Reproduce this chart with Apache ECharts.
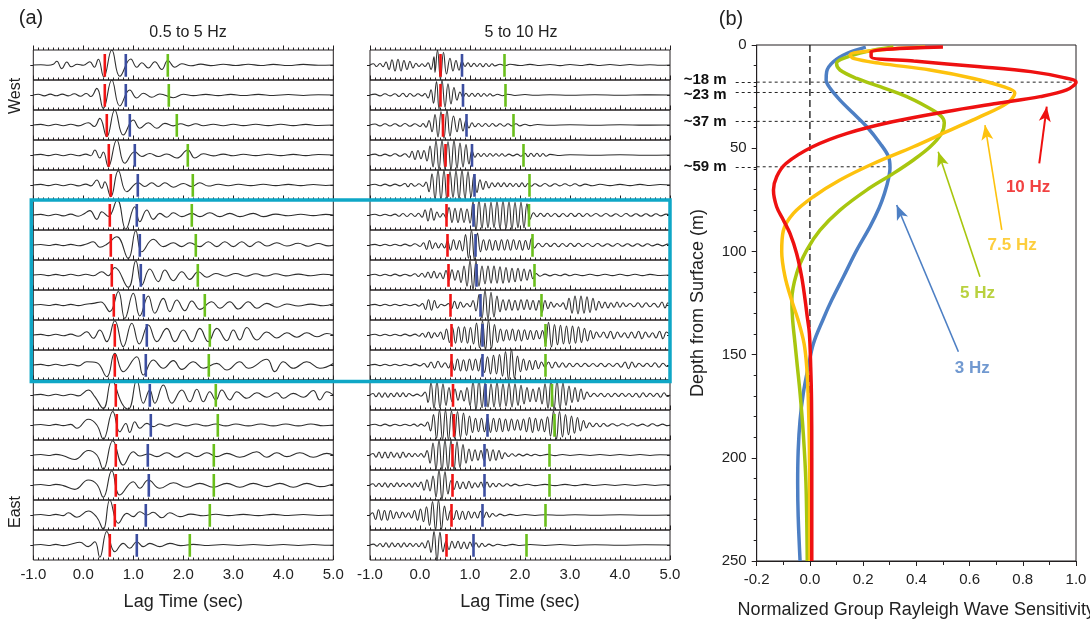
<!DOCTYPE html>
<html><head><meta charset="utf-8">
<script src="https://cdn.jsdelivr.net/npm/echarts@6/dist/echarts.min.js"></script>
<style>html,body{margin:0;padding:0;background:#fff}#c{width:1090px;height:621px}</style>
</head><body><div id="c"></div>
<script>
// ---------- Panel (a): pick times (sec) for each of the 17 traces, West -> East ----------
const lowRed   = [0.43,0.43,0.47,0.51,0.55,0.53,0.55,0.57,0.61,0.63,0.63,0.65,0.67,0.65,0.65,0.63,0.53];
const lowBlue  = [0.85,0.85,0.93,1.03,1.09,1.07,1.13,1.15,1.21,1.27,1.25,1.33,1.35,1.29,1.31,1.25,1.07];
const lowGreen = [1.69,1.71,1.87,2.09,2.19,2.17,2.25,2.29,2.43,2.53,2.51,2.65,2.69,2.61,2.61,2.53,2.13];
const highRed   = [0.41,0.41,0.46,0.51,0.56,0.53,0.55,0.57,0.61,0.63,0.63,0.66,0.68,0.65,0.65,0.63,0.53];
const highBlue  = [0.84,0.86,0.93,1.04,1.09,1.07,1.11,1.13,1.21,1.25,1.25,1.31,1.35,1.29,1.29,1.25,1.07];
const highGreen = [1.69,1.71,1.87,2.07,2.19,2.18,2.25,2.29,2.43,2.51,2.51,2.64,2.69,2.59,2.59,2.51,2.13];

// ---------- 0.5 to 5 Hz traces: [lag time, normalized amplitude] ----------
const low01=[[-1,0],[-0.85,0.02],[-0.7,-0.02],[-0.6,0.05],[-0.53,0.25],[-0.43,-0.25],[-0.33,0.2],[-0.24,-0.12],[-0.12,0.05],[0,-0.02],[0.13,0.22],[0.22,-0.15],[0.3,0.38],[0.41,-0.8],[0.57,1],[0.73,-0.75],[0.95,0.4],[1.07,-0.15],[1.17,0.15],[1.3,-0.2],[1.43,0.22],[1.57,-0.3],[1.69,0.3],[1.83,-0.15],[1.97,0.08],[2.15,-0.05],[2.35,0.06],[2.55,-0.04],[2.8,0.05],[3.05,-0.03],[3.3,0.05],[3.55,-0.03],[3.8,0.04],[4.1,-0.03],[4.4,0.04],[4.7,-0.02],[5,0]];
const low02=[[-1,0],[-0.9,0.05],[-0.78,-0.06],[-0.66,0.06],[-0.54,-0.05],[-0.42,0.06],[-0.3,-0.06],[-0.18,0.08],[-0.06,-0.08],[0.06,0.1],[0.15,-0.1],[0.27,0.44],[0.4,-0.9],[0.57,1],[0.73,-0.73],[0.93,0.33],[1.07,-0.2],[1.2,0.12],[1.37,-0.15],[1.53,0.07],[1.8,-0.18],[2,0.05],[2.2,-0.04],[2.45,0.04],[2.7,-0.04],[2.95,0.04],[3.2,-0.03],[3.5,0.04],[3.8,-0.03],[4.1,0.03],[4.4,-0.03],[4.7,0.02],[5,0]];
const low03=[[-1,0],[-0.85,0.04],[-0.7,-0.05],[-0.55,0.05],[-0.4,-0.05],[-0.25,0.05],[-0.1,-0.06],[0.1,0.15],[0.22,-0.1],[0.33,0.44],[0.47,-0.78],[0.63,1],[0.8,-0.67],[1,0.33],[1.13,-0.22],[1.3,0.15],[1.47,-0.22],[1.63,0.11],[1.8,-0.06],[1.95,0.08],[2.1,-0.06],[2.25,0.08],[2.4,-0.05],[2.6,0.05],[2.8,-0.05],[3,0.05],[3.2,-0.04],[3.45,0.05],[3.7,-0.04],[3.95,0.05],[4.2,-0.04],[4.45,0.04],[4.7,-0.03],[5,0]];
const low04=[[-1,0],[-0.85,0.04],[-0.7,-0.04],[-0.55,0.05],[-0.4,-0.05],[-0.25,0.05],[-0.1,-0.05],[0.05,0.06],[0.15,-0.05],[0.23,0.33],[0.33,-0.2],[0.4,0.2],[0.5,-0.78],[0.67,1],[0.83,-0.55],[1.03,0.22],[1.17,-0.1],[1.33,0.1],[1.5,-0.1],[1.67,0.07],[1.87,-0.2],[2.09,0.33],[2.23,-0.2],[2.4,0.08],[2.6,-0.06],[2.8,0.06],[3,-0.05],[3.2,0.05],[3.45,-0.04],[3.7,0.05],[3.95,-0.04],[4.2,0.04],[4.45,-0.04],[4.7,0.03],[5,0]];
const low05=[[-1,0],[-0.85,0.04],[-0.7,-0.04],[-0.55,0.05],[-0.4,-0.05],[-0.25,0.05],[-0.1,-0.06],[0.05,0.06],[0.15,-0.06],[0.27,0.33],[0.37,-0.22],[0.43,0.22],[0.55,-0.78],[0.7,0.95],[0.87,-0.45],[1.1,0.15],[1.23,-0.1],[1.37,0.15],[1.5,-0.1],[1.63,0.15],[1.8,-0.15],[2,0.1],[2.17,-0.1],[2.33,0.15],[2.5,-0.07],[2.7,0.05],[2.9,-0.05],[3.1,0.05],[3.35,-0.04],[3.6,0.05],[3.85,-0.04],[4.1,0.04],[4.35,-0.04],[4.6,0.03],[4.85,-0.03],[5,0]];
const low06=[[-1,0],[-0.85,0.04],[-0.7,-0.05],[-0.55,0.05],[-0.4,-0.06],[-0.25,0.06],[-0.1,-0.08],[0,0.05],[0.13,0.29],[0.27,-0.29],[0.37,0.22],[0.5,-0.1],[0.68,1],[0.85,-0.95],[1.03,0.55],[1.13,-0.45],[1.27,0.33],[1.4,-0.29],[1.53,0.11],[1.67,-0.15],[1.8,0.15],[1.97,-0.11],[2.17,0.11],[2.33,-0.11],[2.53,0.15],[2.73,-0.11],[2.93,0.11],[3.13,-0.11],[3.4,0.11],[3.6,-0.11],[3.85,0.06],[4.1,-0.05],[4.35,0.05],[4.6,-0.04],[4.85,0.04],[5,0]];
const low07=[[-1,0],[-0.85,0.03],[-0.7,-0.03],[-0.55,0.04],[-0.4,-0.04],[-0.25,0.04],[-0.1,-0.05],[0.05,0.05],[0.2,0.22],[0.33,-0.15],[0.47,0.05],[0.67,0.55],[0.9,-0.9],[1.05,0.95],[1.17,-0.45],[1.4,0.38],[1.6,-0.11],[1.8,0.15],[1.97,-0.11],[2.13,0.15],[2.33,-0.11],[2.5,0.22],[2.67,-0.11],[2.83,0.22],[3,-0.11],[3.17,0.22],[3.33,-0.11],[3.5,0.22],[3.67,-0.07],[3.87,0.15],[4.07,-0.07],[4.3,0.12],[4.5,-0.08],[4.7,0.1],[4.9,-0.06],[5,0]];
const low08=[[-1,0],[-0.85,0.03],[-0.7,-0.04],[-0.55,0.04],[-0.4,-0.04],[-0.25,0.05],[-0.1,-0.05],[0.05,0.05],[0.2,-0.05],[0.37,0.22],[0.5,-0.05],[0.63,0.5],[0.9,-0.82],[1.05,0.95],[1.17,-0.67],[1.33,0.4],[1.5,-0.44],[1.63,0.33],[1.8,-0.38],[1.97,0.22],[2.13,-0.29],[2.3,0.22],[2.47,-0.15],[2.65,0.1],[2.85,-0.08],[3.05,0.1],[3.25,-0.08],[3.45,0.08],[3.65,-0.07],[3.85,0.08],[4.05,-0.06],[4.3,0.06],[4.55,-0.05],[4.8,0.05],[5,0]];
const low09=[[-1,0],[-0.85,0.03],[-0.7,-0.03],[-0.55,0.04],[-0.4,-0.04],[-0.25,0.04],[-0.1,-0.04],[0.05,0.05],[0.2,0.11],[0.35,0.2],[0.53,-0.44],[0.7,0.9],[0.83,-0.9],[1,0.78],[1.13,-0.73],[1.3,0.6],[1.43,-0.55],[1.6,0.44],[1.73,-0.44],[1.87,0.33],[2.03,-0.38],[2.17,0.27],[2.33,-0.29],[2.57,0.22],[2.73,-0.22],[2.93,0.22],[3.1,-0.27],[3.3,0.22],[3.47,-0.22],[3.67,0.11],[3.87,-0.15],[4.07,0.07],[4.3,-0.07],[4.55,0.06],[4.8,-0.05],[5,0.08]];
const low10=[[-1,0],[-0.85,0.04],[-0.7,-0.04],[-0.55,0.05],[-0.4,-0.05],[-0.25,0.06],[-0.1,-0.08],[0.07,0.22],[0.2,-0.22],[0.33,0.33],[0.47,-0.44],[0.63,0.95],[0.8,-0.78],[0.97,0.78],[1.12,-0.6],[1.3,0.67],[1.47,-0.44],[1.67,0.44],[1.83,-0.44],[2,0.33],[2.17,-0.44],[2.33,0.44],[2.5,-0.44],[2.67,0.44],[2.87,-0.38],[3,0.33],[3.13,-0.33],[3.27,0.5],[3.47,-0.33],[3.67,0.2],[3.87,-0.2],[4.07,0.15],[4.27,-0.15],[4.47,0.15],[4.67,-0.12],[4.87,0.1],[5,0]];
const low11=[[-1,0],[-0.85,0.04],[-0.7,-0.04],[-0.55,0.05],[-0.4,-0.05],[-0.25,0.05],[-0.1,-0.06],[0.07,0.22],[0.27,0.15],[0.47,-0.78],[0.63,0.78],[0.8,-0.45],[1.07,0.55],[1.2,-0.67],[1.4,0.33],[1.6,-0.22],[1.8,0.29],[1.97,-0.29],[2.2,0.22],[2.4,-0.22],[2.67,0.11],[2.87,-0.33],[3.13,0.22],[3.3,-0.22],[3.67,0.38],[3.83,-0.44],[4,0.22],[4.2,-0.22],[4.47,0.22],[4.73,-0.22],[5,0.1]];
const low12=[[-1,0],[-0.85,0.04],[-0.7,-0.05],[-0.55,0.05],[-0.4,-0.05],[-0.25,0.05],[-0.1,-0.06],[0.1,0.33],[0.23,-0.11],[0.4,-0.9],[0.57,1],[0.77,-0.55],[0.9,-0.95],[1.07,1],[1.2,-0.55],[1.33,0.33],[1.43,-0.55],[1.6,0.67],[1.77,-0.55],[1.97,0.33],[2.13,-0.45],[2.27,0.38],[2.4,-0.45],[2.53,0.22],[2.65,-0.33],[2.77,0.33],[2.93,-0.33],[3.07,0.22],[3.27,-0.22],[3.47,0.15],[3.67,-0.15],[3.87,0.15],[4,-0.22],[4.2,0.11],[4.4,-0.15],[4.6,0.3],[4.73,-0.33],[4.87,0.22],[5,0]];
const low13=[[-1,0],[-0.85,0.03],[-0.7,-0.03],[-0.55,0.04],[-0.4,-0.04],[-0.25,0.04],[-0.13,-0.22],[0.1,0.38],[0.27,0],[0.4,-0.95],[0.59,0.9],[0.73,-0.45],[0.85,0.1],[0.93,-0.5],[1.03,0.22],[1.13,-0.22],[1.27,0.11],[1.4,-0.11],[1.53,0.07],[1.67,-0.07],[1.85,0.08],[2.05,-0.06],[2.25,0.07],[2.45,-0.06],[2.65,0.07],[2.85,-0.06],[3.05,0.07],[3.3,-0.06],[3.55,0.07],[3.8,-0.06],[4.05,0.07],[4.3,-0.06],[4.55,0.07],[4.8,-0.05],[5,0]];
const low14=[[-1,0],[-0.85,0.03],[-0.7,-0.03],[-0.55,0.04],[-0.4,-0.05],[-0.17,-0.3],[0.1,0.3],[0.27,0],[0.4,-0.95],[0.59,0.95],[0.8,-0.67],[1,0.22],[1.13,-0.07],[1.3,0.07],[1.47,-0.11],[1.67,0.15],[1.87,-0.15],[2.07,0.15],[2.27,-0.11],[2.47,0.15],[2.67,-0.11],[2.87,0.11],[3.13,-0.15],[3.47,0.22],[3.67,-0.15],[3.87,0.15],[4.07,-0.11],[4.33,0.15],[4.6,-0.15],[4.87,0.11],[5,0]];
const low15=[[-1,0],[-0.85,0.03],[-0.7,-0.03],[-0.55,0.04],[-0.4,-0.04],[-0.17,-0.29],[0.1,0.33],[0.27,0.05],[0.4,-0.82],[0.57,0.95],[0.73,-0.67],[1,0.22],[1.13,-0.22],[1.3,0.33],[1.53,-0.22],[1.8,0.15],[2.07,-0.15],[2.33,0.11],[2.6,-0.15],[2.87,0.11],[3.13,-0.15],[3.4,0.11],[3.67,-0.11],[3.93,0.11],[4.2,-0.15],[4.47,0.11],[4.73,-0.11],[5,0.07]];
const low16=[[-1,0],[-0.85,0.03],[-0.7,-0.03],[-0.55,0.04],[-0.4,-0.04],[-0.3,0.15],[-0.13,-0.15],[0.1,0.27],[0.27,-0.15],[0.4,-0.95],[0.53,1],[0.7,-0.55],[0.87,0.11],[1,-0.11],[1.13,0.22],[1.27,0],[1.4,0.18],[1.57,-0.18],[1.73,0.15],[1.93,-0.11],[2.15,0.06],[2.4,-0.05],[2.65,0.05],[2.9,-0.04],[3.2,0.04],[3.5,-0.04],[3.8,0.04],[4.1,-0.03],[4.4,0.03],[4.7,-0.03],[5,0]];
const low17=[[-1,0],[-0.85,0.03],[-0.7,-0.03],[-0.55,0.04],[-0.4,-0.04],[-0.25,0.05],[-0.07,0.18],[0.1,-0.11],[0.23,0.22],[0.33,-0.82],[0.47,0.9],[0.63,-0.45],[0.8,0.11],[0.93,-0.22],[1.07,0.22],[1.2,-0.11],[1.33,0.11],[1.53,-0.11],[1.73,0.11],[1.95,-0.04],[2.2,0.04],[2.5,-0.03],[2.8,0.03],[3.1,-0.03],[3.4,0.03],[3.7,-0.03],[4,0.03],[4.3,-0.03],[4.6,0.03],[4.9,-0.02],[5,0]];

// ---------- 5 to 10 Hz traces ----------
const high01=[[-1,0],[-0.93,0.08],[-0.87,-0.1],[-0.8,0.1],[-0.74,-0.12],[-0.68,0.2],[-0.62,-0.3],[-0.56,0.35],[-0.5,-0.4],[-0.44,0.38],[-0.38,-0.4],[-0.32,0.3],[-0.26,-0.3],[-0.2,0.25],[-0.14,-0.2],[-0.08,0.12],[-0.02,-0.1],[0.04,0.08],[0.1,-0.1],[0.16,0.15],[0.22,-0.3],[0.28,0.55],[0.3,-0.5],[0.35,1],[0.41,-0.95],[0.47,0.85],[0.53,-0.6],[0.6,0.45],[0.66,-0.4],[0.72,0.3],[0.78,-0.35],[0.84,0.25],[0.9,-0.1],[0.96,0.15],[1.02,-0.12],[1.08,0.12],[1.14,-0.1],[1.2,0.1],[1.26,-0.12],[1.32,0.1],[1.38,-0.1],[1.44,0.08],[1.5,-0.06],[1.6,0.05],[1.7,-0.04],[1.8,0.05],[2,-0.03],[2.2,0.04],[2.4,-0.03],[2.6,0.03],[2.8,-0.04],[3,0.03],[3.2,-0.03],[3.4,0.04],[3.6,-0.03],[3.8,0.03],[4,-0.03],[4.2,0.03],[4.4,-0.02],[4.6,0.02],[4.8,-0.02],[5,0]];
const high02=[[-1,0],[-0.9,0.06],[-0.8,-0.06],[-0.7,0.08],[-0.6,-0.06],[-0.5,0.08],[-0.42,-0.1],[-0.34,0.12],[-0.27,-0.12],[-0.2,0.1],[-0.12,-0.08],[-0.04,0.08],[0.04,-0.06],[0.1,0.1],[0.16,-0.2],[0.22,0.35],[0.27,-0.55],[0.33,0.9],[0.38,-0.95],[0.44,1],[0.5,-0.8],[0.56,0.75],[0.62,-0.6],[0.68,0.5],[0.74,-0.35],[0.8,0.2],[0.86,-0.15],[0.92,0.12],[0.98,-0.1],[1.04,0.12],[1.1,-0.1],[1.16,0.12],[1.22,-0.1],[1.28,0.1],[1.34,-0.08],[1.4,0.08],[1.46,-0.06],[1.55,0.05],[1.65,-0.05],[1.75,0.05],[1.9,-0.03],[2.1,0.03],[2.3,-0.02],[2.6,0.02],[3,-0.02],[3.5,0.02],[4,-0.02],[4.5,0.01],[5,0]];
const high03=[[-1,0],[-0.9,0.07],[-0.8,-0.06],[-0.7,0.08],[-0.6,-0.07],[-0.5,0.08],[-0.4,-0.08],[-0.3,0.1],[-0.2,-0.08],[-0.1,0.08],[0,-0.1],[0.06,0.1],[0.12,-0.15],[0.18,0.3],[0.24,-0.45],[0.3,0.7],[0.36,-0.8],[0.42,0.9],[0.48,-0.9],[0.54,1],[0.6,-0.75],[0.67,0.6],[0.74,-0.45],[0.8,0.45],[0.86,-0.4],[0.92,0.3],[0.98,-0.2],[1.04,0.15],[1.1,-0.12],[1.17,0.1],[1.24,-0.1],[1.31,0.1],[1.38,-0.1],[1.45,0.1],[1.52,-0.08],[1.6,0.08],[1.68,-0.08],[1.76,0.08],[1.84,-0.06],[1.92,0.08],[2,-0.06],[2.1,0.05],[2.2,-0.04],[2.35,0.03],[2.6,-0.02],[3,0.02],[3.5,-0.02],[4,0.02],[4.5,-0.01],[5,0]];
const high04=[[-1,0],[-0.9,0.06],[-0.8,-0.05],[-0.7,0.06],[-0.6,-0.06],[-0.5,0.08],[-0.4,-0.08],[-0.3,0.08],[-0.22,-0.15],[-0.16,0.25],[-0.1,-0.3],[-0.04,0.3],[0.02,-0.25],[0.08,0.3],[0.14,-0.4],[0.2,0.6],[0.26,-0.8],[0.32,0.95],[0.38,-1],[0.44,1],[0.5,-0.95],[0.56,0.9],[0.62,-1],[0.68,1],[0.74,-0.9],[0.8,0.8],[0.86,-0.8],[0.92,0.7],[0.98,-0.6],[1.04,0.3],[1.1,-0.15],[1.16,0.12],[1.22,-0.1],[1.28,0.1],[1.34,-0.1],[1.4,0.1],[1.46,-0.08],[1.52,0.08],[1.58,-0.08],[1.64,0.08],[1.7,-0.08],[1.78,0.06],[1.86,-0.06],[1.94,0.06],[2.02,-0.08],[2.1,0.12],[2.16,-0.12],[2.22,0.12],[2.28,-0.1],[2.34,0.12],[2.4,-0.1],[2.46,0.1],[2.52,-0.08],[2.6,0.04],[2.8,-0.03],[3,0.02],[3.5,-0.02],[4,0.02],[4.5,-0.02],[5,0]];
const high05=[[-1,0],[-0.9,0.05],[-0.8,-0.05],[-0.7,0.06],[-0.6,-0.06],[-0.5,0.06],[-0.4,-0.06],[-0.3,0.1],[-0.24,-0.12],[-0.18,0.1],[-0.1,-0.08],[-0.02,0.08],[0.06,-0.1],[0.12,0.2],[0.18,-0.45],[0.24,0.75],[0.3,-0.95],[0.36,1],[0.42,-1],[0.48,1],[0.54,-1],[0.6,0.9],[0.66,-0.85],[0.72,0.95],[0.78,-0.95],[0.84,1],[0.9,-0.9],[0.96,0.9],[1.02,-0.8],[1.08,0.7],[1.14,-0.5],[1.2,0.35],[1.26,-0.3],[1.32,0.25],[1.38,-0.2],[1.44,0.15],[1.5,-0.12],[1.56,0.15],[1.62,-0.12],[1.68,0.15],[1.74,-0.12],[1.8,0.12],[1.86,-0.1],[1.92,0.1],[1.98,-0.12],[2.04,0.15],[2.1,-0.12],[2.16,0.1],[2.22,-0.08],[2.3,0.08],[2.4,-0.08],[2.5,0.1],[2.6,-0.08],[2.7,0.08],[2.8,-0.06],[2.9,0.08],[3,-0.06],[3.1,0.08],[3.2,-0.06],[3.3,0.06],[3.45,-0.05],[3.6,0.05],[3.8,-0.04],[4,0.04],[4.2,-0.04],[4.4,0.04],[4.6,-0.03],[4.8,0.03],[5,0]];
const high06=[[-1,0],[-0.9,0.05],[-0.8,-0.05],[-0.7,0.05],[-0.6,-0.05],[-0.5,0.06],[-0.42,-0.08],[-0.34,0.1],[-0.26,-0.1],[-0.18,0.1],[-0.1,-0.1],[-0.03,0.12],[0.04,-0.15],[0.1,0.35],[0.16,-0.4],[0.22,0.45],[0.28,-0.35],[0.34,0.2],[0.4,-0.15],[0.46,0.1],[0.52,-0.2],[0.58,0.5],[0.64,-0.5],[0.7,0.45],[0.76,-0.5],[0.82,0.45],[0.88,-0.5],[0.94,0.4],[1,-0.55],[1.06,0.9],[1.12,-1.05],[1.18,1],[1.24,-0.9],[1.3,0.8],[1.36,-0.85],[1.42,0.85],[1.48,-0.85],[1.54,0.9],[1.6,-0.9],[1.66,0.95],[1.72,-0.9],[1.78,0.9],[1.84,-0.95],[1.9,0.85],[1.96,-0.85],[2.02,0.85],[2.08,-0.85],[2.14,0.75],[2.2,-0.3],[2.27,0.15],[2.34,-0.12],[2.41,0.12],[2.48,-0.1],[2.55,0.12],[2.62,-0.1],[2.7,0.1],[2.78,-0.12],[2.86,0.1],[2.94,-0.1],[3.02,0.12],[3.1,-0.1],[3.18,0.12],[3.26,-0.1],[3.34,0.1],[3.42,-0.08],[3.52,0.1],[3.62,-0.08],[3.72,0.1],[3.82,-0.08],[3.92,0.08],[4.02,-0.1],[4.12,0.1],[4.22,-0.08],[4.32,0.08],[4.42,-0.08],[4.52,0.08],[4.62,-0.08],[4.72,0.08],[4.82,-0.06],[4.92,0.06],[5,0]];
const high07=[[-1,0],[-0.9,0.04],[-0.8,-0.04],[-0.7,0.05],[-0.6,-0.05],[-0.5,0.05],[-0.4,-0.05],[-0.3,0.06],[-0.2,-0.06],[-0.1,0.08],[0,-0.1],[0.07,0.15],[0.13,-0.3],[0.19,0.3],[0.25,-0.25],[0.31,0.15],[0.37,-0.2],[0.43,0.1],[0.49,-0.2],[0.55,0.3],[0.61,-0.35],[0.67,0.35],[0.73,-0.3],[0.79,0.3],[0.85,-0.4],[0.91,0.7],[0.97,-0.9],[1.03,1],[1.09,-1],[1.15,0.8],[1.21,-0.45],[1.27,0.35],[1.33,-0.35],[1.39,0.35],[1.45,-0.35],[1.51,0.3],[1.57,-0.35],[1.63,0.35],[1.69,-0.35],[1.75,0.35],[1.81,-0.35],[1.87,0.35],[1.93,-0.3],[1.99,0.3],[2.05,-0.35],[2.11,0.3],[2.17,-0.3],[2.23,0.45],[2.29,-0.2],[2.37,0.12],[2.45,-0.12],[2.53,0.12],[2.61,-0.1],[2.69,0.12],[2.77,-0.12],[2.85,0.1],[2.93,-0.1],[3.01,0.12],[3.09,-0.1],[3.17,0.12],[3.25,-0.1],[3.35,0.1],[3.45,-0.1],[3.55,0.1],[3.65,-0.08],[3.75,0.08],[3.85,-0.08],[3.95,0.1],[4.05,-0.08],[4.15,0.08],[4.25,-0.08],[4.35,0.08],[4.45,-0.08],[4.55,0.08],[4.65,-0.06],[4.75,0.06],[4.85,-0.06],[4.95,0.06],[5,0]];
const high08=[[-1,0],[-0.9,0.05],[-0.8,-0.05],[-0.7,0.05],[-0.6,-0.05],[-0.5,0.06],[-0.4,-0.06],[-0.3,0.05],[-0.2,-0.06],[-0.1,0.08],[-0.03,-0.1],[0.04,0.12],[0.1,-0.15],[0.16,0.2],[0.22,-0.2],[0.28,0.25],[0.34,-0.2],[0.4,0.15],[0.46,-0.25],[0.52,0.3],[0.58,-0.35],[0.64,0.35],[0.7,-0.35],[0.76,0.3],[0.82,-0.5],[0.88,0.6],[0.94,-0.75],[1,0.95],[1.06,-1],[1.12,0.95],[1.18,-0.75],[1.24,0.6],[1.3,-0.6],[1.36,0.6],[1.42,-0.55],[1.48,0.6],[1.54,-0.55],[1.6,0.55],[1.66,-0.55],[1.72,0.5],[1.78,-0.5],[1.84,0.45],[1.9,-0.45],[1.96,0.45],[2.02,-0.4],[2.08,0.4],[2.14,-0.35],[2.2,0.35],[2.26,-0.25],[2.32,0.1],[2.4,-0.08],[2.5,0.06],[2.6,-0.06],[2.7,0.05],[2.8,-0.05],[2.9,0.06],[3,-0.05],[3.1,0.05],[3.25,-0.04],[3.4,0.05],[3.55,-0.04],[3.7,0.05],[3.85,-0.04],[4,0.05],[4.15,-0.04],[4.3,0.05],[4.45,-0.04],[4.6,0.04],[4.8,-0.03],[5,0]];
const high09=[[-1,0],[-0.9,0.04],[-0.8,-0.04],[-0.7,0.05],[-0.6,-0.05],[-0.5,0.05],[-0.4,-0.04],[-0.3,0.05],[-0.2,-0.05],[-0.1,0.05],[-0.02,-0.08],[0.05,0.1],[0.11,-0.3],[0.17,0.35],[0.23,-0.35],[0.29,0.3],[0.35,-0.2],[0.42,0.05],[0.5,-0.05],[0.57,0.1],[0.63,-0.25],[0.69,0.25],[0.75,-0.25],[0.81,0.2],[0.87,-0.15],[0.94,0.1],[1,-0.12],[1.06,0.3],[1.12,-0.4],[1.18,0.7],[1.24,-0.9],[1.3,1],[1.36,-0.95],[1.42,0.85],[1.48,-0.8],[1.54,0.6],[1.6,-0.45],[1.66,0.35],[1.72,-0.35],[1.78,0.35],[1.84,-0.35],[1.9,0.3],[1.96,-0.35],[2.02,0.35],[2.08,-0.3],[2.14,0.35],[2.2,-0.3],[2.26,0.3],[2.32,-0.35],[2.38,0.3],[2.44,-0.5],[2.5,0.3],[2.56,-0.25],[2.62,0.2],[2.68,-0.15],[2.74,0.1],[2.8,-0.1],[2.86,0.15],[2.92,-0.3],[2.98,0.45],[3.04,-0.55],[3.1,0.6],[3.16,-0.6],[3.22,0.6],[3.28,-0.55],[3.34,0.55],[3.4,-0.5],[3.46,0.45],[3.52,-0.35],[3.58,0.25],[3.64,-0.2],[3.7,0.2],[3.76,-0.2],[3.82,0.15],[3.88,-0.15],[3.94,0.2],[4,-0.15],[4.06,0.15],[4.12,-0.1],[4.2,0.1],[4.28,-0.12],[4.36,0.15],[4.44,-0.15],[4.52,0.15],[4.6,-0.12],[4.68,0.12],[4.76,-0.15],[4.84,0.2],[4.9,-0.2],[4.96,0.15],[5,0]];
const high10=[[-1,0],[-0.9,0.05],[-0.8,-0.05],[-0.7,0.05],[-0.6,-0.05],[-0.5,0.05],[-0.4,-0.05],[-0.3,0.06],[-0.2,-0.06],[-0.1,0.06],[-0.02,-0.08],[0.05,0.12],[0.11,-0.15],[0.17,0.2],[0.23,-0.2],[0.29,0.15],[0.35,-0.12],[0.41,0.2],[0.47,-0.3],[0.53,0.4],[0.59,-0.5],[0.65,0.5],[0.71,-0.55],[0.77,0.55],[0.83,-0.5],[0.89,0.55],[0.95,-0.55],[1.01,0.5],[1.07,-0.6],[1.13,0.8],[1.19,-0.85],[1.25,0.95],[1.31,-1],[1.37,1],[1.43,-0.9],[1.49,0.7],[1.55,-0.5],[1.61,0.4],[1.67,-0.4],[1.73,0.35],[1.79,-0.35],[1.85,0.4],[1.91,-0.4],[1.97,0.35],[2.03,-0.4],[2.09,0.35],[2.15,-0.3],[2.21,0.3],[2.27,-0.3],[2.33,0.3],[2.39,-0.25],[2.45,0.3],[2.51,-0.6],[2.57,0.85],[2.63,-0.8],[2.69,0.7],[2.75,-0.65],[2.81,0.65],[2.87,-0.6],[2.93,0.6],[2.99,-0.6],[3.05,0.6],[3.11,-0.55],[3.17,0.55],[3.23,-0.5],[3.29,0.45],[3.35,-0.4],[3.41,0.3],[3.47,-0.25],[3.53,0.2],[3.6,-0.15],[3.67,0.2],[3.74,-0.2],[3.81,0.25],[3.88,-0.25],[3.95,0.2],[4.02,-0.15],[4.09,0.15],[4.16,-0.2],[4.23,0.2],[4.3,-0.2],[4.37,0.25],[4.44,-0.25],[4.51,0.2],[4.58,-0.15],[4.65,0.15],[4.72,-0.2],[4.79,0.25],[4.86,-0.25],[4.93,0.2],[5,0]];
const high11=[[-1,0],[-0.9,0.04],[-0.8,-0.04],[-0.7,0.05],[-0.6,-0.05],[-0.5,0.05],[-0.4,-0.05],[-0.3,0.05],[-0.2,-0.05],[-0.1,0.06],[0,-0.06],[0.08,0.1],[0.15,-0.15],[0.22,0.2],[0.29,-0.2],[0.36,0.25],[0.43,-0.15],[0.5,0.15],[0.57,-0.2],[0.63,0.3],[0.69,-0.35],[0.75,0.4],[0.81,-0.4],[0.87,0.35],[0.93,-0.4],[0.99,0.4],[1.05,-0.35],[1.11,0.4],[1.17,-0.4],[1.23,0.5],[1.29,-0.5],[1.35,0.55],[1.41,-0.6],[1.47,0.65],[1.53,-0.6],[1.59,0.7],[1.65,-0.75],[1.71,0.9],[1.77,-1],[1.83,1.05],[1.89,-0.9],[1.95,0.6],[2.01,-0.45],[2.07,0.4],[2.13,-0.35],[2.19,0.3],[2.25,-0.3],[2.31,0.3],[2.37,-0.25],[2.43,0.2],[2.5,-0.15],[2.57,0.2],[2.64,-0.2],[2.71,0.2],[2.78,-0.15],[2.85,0.15],[2.92,-0.15],[2.99,0.12],[3.06,-0.12],[3.14,0.12],[3.22,-0.12],[3.3,0.12],[3.38,-0.1],[3.46,0.1],[3.54,-0.1],[3.62,0.12],[3.7,-0.12],[3.78,0.1],[3.86,-0.1],[3.94,0.12],[4.02,-0.15],[4.1,0.2],[4.17,-0.25],[4.24,0.2],[4.31,-0.15],[4.38,0.12],[4.46,-0.1],[4.54,0.12],[4.62,-0.12],[4.7,0.15],[4.78,-0.15],[4.86,0.12],[4.94,-0.1],[5,0]];
const high12=[[-1,0],[-0.94,0.1],[-0.88,-0.12],[-0.82,0.15],[-0.76,-0.15],[-0.7,0.15],[-0.64,-0.15],[-0.58,0.12],[-0.52,-0.12],[-0.46,0.15],[-0.4,-0.12],[-0.34,0.15],[-0.28,-0.12],[-0.22,0.1],[-0.14,-0.06],[-0.06,0.06],[0.02,-0.08],[0.1,0.2],[0.16,-0.5],[0.22,0.85],[0.28,-0.9],[0.34,0.9],[0.4,-0.85],[0.46,0.75],[0.52,-0.7],[0.58,0.5],[0.64,-0.45],[0.7,0.4],[0.76,-0.35],[0.82,0.3],[0.88,-0.4],[0.94,0.5],[1,-0.7],[1.06,0.9],[1.12,-1],[1.18,1],[1.24,-0.85],[1.3,0.8],[1.36,-0.8],[1.42,0.75],[1.48,-0.8],[1.54,0.85],[1.6,-0.8],[1.66,0.75],[1.72,-0.75],[1.78,0.8],[1.84,-0.8],[1.9,0.75],[1.96,-0.7],[2.02,0.65],[2.08,-0.6],[2.14,0.5],[2.2,-0.45],[2.26,0.4],[2.32,-0.45],[2.38,0.5],[2.44,-0.6],[2.5,0.75],[2.56,-0.9],[2.62,1],[2.68,-1],[2.74,0.95],[2.8,-0.9],[2.86,0.8],[2.92,-0.7],[2.98,0.6],[3.04,-0.5],[3.1,0.5],[3.16,-0.45],[3.22,0.4],[3.28,-0.3],[3.34,0.2],[3.41,-0.12],[3.48,0.12],[3.55,-0.1],[3.62,0.12],[3.69,-0.12],[3.76,0.1],[3.83,-0.12],[3.9,0.12],[3.97,-0.1],[4.04,0.12],[4.11,-0.1],[4.18,0.1],[4.25,-0.12],[4.32,0.12],[4.39,-0.15],[4.46,0.15],[4.53,-0.12],[4.6,0.12],[4.67,-0.1],[4.74,0.12],[4.81,-0.15],[4.88,0.15],[4.95,-0.1],[5,0]];
const high13=[[-1,0],[-0.9,0.05],[-0.8,-0.05],[-0.7,0.06],[-0.6,-0.06],[-0.5,0.05],[-0.4,-0.05],[-0.3,0.05],[-0.2,-0.05],[-0.12,0.06],[-0.05,-0.08],[0.02,0.06],[0.09,-0.08],[0.15,0.2],[0.21,-0.4],[0.27,0.7],[0.33,-0.9],[0.39,1],[0.45,-1],[0.51,1],[0.57,-1],[0.63,0.95],[0.69,-0.9],[0.75,0.9],[0.81,-0.85],[0.87,0.8],[0.93,-0.7],[0.99,0.6],[1.05,-0.5],[1.11,0.45],[1.17,-0.45],[1.23,0.45],[1.29,-0.45],[1.35,0.5],[1.41,-0.5],[1.47,0.45],[1.53,-0.45],[1.59,0.45],[1.65,-0.45],[1.71,0.4],[1.77,-0.4],[1.83,0.4],[1.89,-0.35],[1.95,0.35],[2.01,-0.35],[2.07,0.4],[2.13,-0.45],[2.19,0.5],[2.25,-0.5],[2.31,0.45],[2.37,-0.4],[2.43,0.4],[2.49,-0.45],[2.55,0.55],[2.61,-0.75],[2.67,0.95],[2.73,-0.95],[2.79,0.9],[2.85,-0.8],[2.91,0.7],[2.97,-0.65],[3.03,0.6],[3.09,-0.55],[3.15,0.5],[3.21,-0.4],[3.27,0.3],[3.33,-0.2],[3.39,0.15],[3.46,-0.12],[3.53,0.12],[3.6,-0.12],[3.67,0.1],[3.75,-0.08],[3.85,0.08],[3.95,-0.06],[4.05,0.08],[4.15,-0.06],[4.25,0.08],[4.35,-0.06],[4.45,0.06],[4.55,-0.08],[4.65,0.08],[4.75,-0.06],[4.85,0.06],[4.95,-0.05],[5,0]];
const high14=[[-1,0],[-0.94,0.1],[-0.88,-0.15],[-0.82,0.2],[-0.76,-0.2],[-0.7,0.2],[-0.64,-0.2],[-0.58,0.2],[-0.52,-0.15],[-0.46,0.15],[-0.4,-0.2],[-0.34,0.2],[-0.28,-0.15],[-0.22,0.12],[-0.16,-0.12],[-0.1,0.1],[-0.04,-0.1],[0.02,0.1],[0.08,-0.15],[0.14,0.3],[0.2,-0.55],[0.26,0.8],[0.32,-0.95],[0.38,1],[0.44,-1.05],[0.5,1],[0.56,-1],[0.62,1],[0.68,-1],[0.74,0.9],[0.8,-0.85],[0.86,0.7],[0.92,-0.55],[0.98,0.4],[1.04,-0.4],[1.1,0.35],[1.16,-0.35],[1.22,0.3],[1.28,-0.35],[1.34,0.4],[1.4,-0.4],[1.46,0.35],[1.52,-0.35],[1.58,0.3],[1.64,-0.25],[1.7,0.15],[1.77,-0.1],[1.84,0.08],[1.91,-0.08],[1.98,0.06],[2.06,-0.06],[2.14,0.06],[2.22,-0.05],[2.3,0.05],[2.4,-0.04],[2.55,0.04],[2.7,-0.04],[2.85,0.03],[3,-0.03],[3.2,0.03],[3.4,-0.03],[3.6,0.03],[3.8,-0.03],[4,0.03],[4.2,-0.03],[4.4,0.03],[4.6,-0.03],[4.8,0.02],[5,0]];
const high15=[[-1,0],[-0.94,0.08],[-0.88,-0.1],[-0.82,0.12],[-0.76,-0.12],[-0.7,0.15],[-0.64,-0.15],[-0.58,0.12],[-0.52,-0.12],[-0.46,0.15],[-0.4,-0.12],[-0.34,0.12],[-0.28,-0.1],[-0.22,0.12],[-0.16,-0.15],[-0.1,0.15],[-0.04,-0.12],[0.02,0.2],[0.08,-0.35],[0.14,0.35],[0.2,-0.4],[0.26,0.6],[0.32,-0.8],[0.38,1],[0.44,-1],[0.5,0.9],[0.56,-0.6],[0.62,0.3],[0.68,-0.3],[0.74,0.25],[0.8,-0.25],[0.86,0.2],[0.92,-0.25],[0.98,0.25],[1.04,-0.2],[1.1,0.15],[1.16,-0.15],[1.22,0.2],[1.28,-0.2],[1.34,0.2],[1.4,-0.15],[1.46,0.12],[1.52,-0.12],[1.58,0.1],[1.66,-0.08],[1.74,0.08],[1.82,-0.06],[1.9,0.06],[2,-0.05],[2.15,0.05],[2.3,-0.04],[2.5,0.04],[2.7,-0.04],[2.9,0.04],[3.1,-0.04],[3.3,0.04],[3.5,-0.03],[3.7,0.03],[3.9,-0.03],[4.1,0.03],[4.3,-0.03],[4.5,0.03],[4.7,-0.03],[4.9,0.02],[5,0]];
const high16=[[-1,0],[-0.95,0.15],[-0.89,-0.3],[-0.83,0.35],[-0.77,-0.35],[-0.71,0.3],[-0.65,-0.35],[-0.59,0.3],[-0.53,-0.25],[-0.47,0.2],[-0.41,-0.2],[-0.35,0.2],[-0.29,-0.15],[-0.23,0.15],[-0.17,-0.2],[-0.11,0.3],[-0.05,-0.35],[0.01,0.4],[0.07,-0.45],[0.13,0.55],[0.19,-0.7],[0.25,0.9],[0.31,-1],[0.37,1],[0.43,-0.95],[0.49,0.6],[0.55,-0.35],[0.61,0.3],[0.67,-0.3],[0.73,0.3],[0.79,-0.3],[0.85,0.25],[0.91,-0.3],[0.97,0.25],[1.03,-0.2],[1.09,0.2],[1.15,-0.2],[1.21,0.25],[1.27,-0.2],[1.33,0.2],[1.39,-0.15],[1.45,0.1],[1.52,-0.08],[1.6,0.06],[1.7,-0.05],[1.8,0.04],[1.95,-0.03],[2.1,0.03],[2.3,-0.03],[2.5,0.02],[2.8,-0.02],[3.1,0.02],[3.5,-0.02],[4,0.02],[4.5,-0.02],[5,0]];
const high17=[[-1,0],[-0.93,0.06],[-0.86,-0.08],[-0.8,0.1],[-0.74,-0.12],[-0.68,0.15],[-0.62,-0.15],[-0.56,0.15],[-0.5,-0.12],[-0.44,0.12],[-0.38,-0.15],[-0.32,0.15],[-0.26,-0.12],[-0.2,0.12],[-0.14,-0.1],[-0.08,0.1],[-0.02,-0.12],[0.04,0.15],[0.1,-0.2],[0.16,0.3],[0.22,-0.5],[0.28,0.9],[0.34,-1.05],[0.4,0.85],[0.46,-0.45],[0.52,0.25],[0.58,-0.3],[0.64,0.25],[0.7,-0.2],[0.76,0.25],[0.82,-0.25],[0.88,0.2],[0.94,-0.25],[1,0.2],[1.06,-0.15],[1.12,0.15],[1.18,-0.15],[1.24,0.12],[1.3,-0.1],[1.38,0.06],[1.46,-0.06],[1.55,0.05],[1.7,-0.04],[1.85,0.04],[2,-0.03],[2.2,0.03],[2.5,-0.03],[2.8,0.03],[3.1,-0.03],[3.5,0.02],[4,-0.02],[4.5,0.02],[5,0]];

const lowTraces  = [low01,low02,low03,low04,low05,low06,low07,low08,low09,low10,low11,low12,low13,low14,low15,low16,low17];
const highTraces = [high01,high02,high03,high04,high05,high06,high07,high08,high09,high10,high11,high12,high13,high14,high15,high16,high17];

// ---------- Panel (b): sensitivity [value, depth (m)] ----------
const sens3Hz  = [[0.21,1],[0.14,4],[0.088,8.1],[0.063,12.9],[0.061,17],[0.076,21],[0.113,26.7],[0.163,33.1],[0.214,39.6],[0.264,47.7],[0.295,54],[0.301,59.5],[0.295,65],[0.28,72],[0.26,79],[0.226,88],[0.176,99.4],[0.126,112.3],[0.082,123.6],[0.051,132.5],[0.013,144.7],[-0.006,155.9],[-0.025,168.8],[-0.037,181.7],[-0.044,196.3],[-0.046,212.4],[-0.044,228.6],[-0.037,250]];
const sens5Hz  = [[0.314,1],[0.213,3.2],[0.126,6.5],[0.1,8.9],[0.113,12.1],[0.176,16.2],[0.264,20.2],[0.364,25],[0.439,29.9],[0.489,34],[0.505,37.5],[0.495,42.8],[0.452,49.3],[0.389,55.7],[0.314,62.2],[0.213,70.3],[0.113,80],[0.038,89.7],[-0.012,99.4],[-0.05,110.7],[-0.068,123.6],[-0.065,133],[-0.056,144.6],[-0.047,156],[-0.037,168.8],[-0.025,188],[-0.015,212],[-0.01,250]];
const sens75Hz = [[0.433,1],[0.264,2.4],[0.151,4.8],[0.163,6.5],[0.264,8.9],[0.452,12.1],[0.615,16.2],[0.727,20.2],[0.77,23.2],[0.74,28.3],[0.64,34.7],[0.514,42],[0.389,49.3],[0.239,57.4],[0.113,65.4],[0.013,73.5],[-0.062,81.6],[-0.1,90],[-0.106,100],[-0.094,112],[-0.069,123.6],[-0.045,133],[-0.022,144.6],[-0.012,156],[-0.006,172],[-0.002,196],[0,250]];
const sens10Hz = [[0.5,1],[0.23,3.2],[0.23,5.7],[0.39,7.8],[0.64,10.5],[0.83,12.9],[0.95,15.7],[1.0,18],[0.965,21.8],[0.865,25],[0.7,28.3],[0.51,32.3],[0.31,37.2],[0.14,42.8],[0.01,49.3],[-0.09,57.4],[-0.125,63.8],[-0.137,70.3],[-0.125,78.4],[-0.1,84.8],[-0.075,91.3],[-0.05,101],[-0.031,112.3],[-0.018,123.6],[-0.01,131.7],[-0.002,139.7],[0.003,156],[0.006,172],[0.007,200],[0.007,250]];
const peakDepths = [18, 23, 37, 59];
const peakValues = [1.0, 0.763, 0.5, 0.301];
const freqNames  = ['3 Hz', '5 Hz', '7.5 Hz', '10 Hz'];
const arrowTails = [[0.558,148.6],[0.639,112.3],[0.721,89.6],[0.862,57.3]];
const arrowTips  = [[0.326,77.5],[0.482,51.7],[0.658,38.8],[0.89,29.9]];
const labelSpots = [[0.61,156.6],[0.63,120.2],[0.76,96.9],[0.82,68.8]];

// ---------- build ----------
const FONT = '"Liberation Sans", Arial, Helvetica, sans-serif';
const INK = '#231f20';
const ROW_TOP = 50, ROW_H = 30, PANEL_W = 300, NROWS = 17;
const BAR_LO = -0.78, BAR_HI = 0.73;
const grid = [], xAxis = [], yAxis = [], series = [];

const panels = [
  {left: 33.3, traces: lowTraces, picks: [[lowRed,'#f01414'],[lowBlue,'#3c4ea0'],[lowGreen,'#6abf1c']]},
  {left: 370,  traces: highTraces, picks: [[highRed,'#f01414'],[highBlue,'#3c4ea0'],[highGreen,'#6abf1c']]}
];

panels.forEach(p => {
  for (let r = 0; r < NROWS; r++) {
    const gi = grid.length;
    grid.push({left: p.left, top: ROW_TOP + r*ROW_H, width: PANEL_W, height: ROW_H,
      show: true, borderColor: INK, borderWidth: 1, backgroundColor: 'transparent',
      containLabel: false, outerBoundsMode: 'none'});
    const last = r === NROWS - 1;
    const xi = xAxis.length;
    xAxis.push({type: 'value', gridIndex: gi, min: -1, max: 5, interval: 1, position: 'bottom',
      axisLine: {show: false, onZero: false}, splitLine: {show: false},
      axisTick: {show: true, inside: true, length: 4.5, lineStyle: {color: INK, width: 1}},
      minorTick: {show: true, splitNumber: 10, length: 2.5, lineStyle: {color: INK, width: 1}},
      axisLabel: {show: last, fontSize: 15, color: '#222', margin: 7, fontFamily: FONT,
        showMinLabel: true, showMaxLabel: true, formatter: v => v.toFixed(1)},
      name: last ? 'Lag Time (sec)' : '', nameLocation: 'middle', nameGap: 33,
      nameTextStyle: {fontSize: 18, color: '#222', fontFamily: FONT}});
    if (r === 0) {
      xAxis.push({type: 'value', gridIndex: gi, min: -1, max: 5, interval: 1, position: 'top',
        axisLine: {show: false, onZero: false}, splitLine: {show: false}, axisLabel: {show: false},
        axisTick: {show: true, inside: false, length: 4.5, lineStyle: {color: INK}},
        minorTick: {show: true, splitNumber: 10, length: 2.5, lineStyle: {color: INK}}});
    }
    const yi = yAxis.length;
    yAxis.push({type: 'value', gridIndex: gi, min: -1, max: 1, interval: 1, position: 'left',
      axisLine: {show: false, onZero: false}, splitLine: {show: false}, axisLabel: {show: false},
      axisTick: {show: true, inside: false, length: 3, customValues: [0], lineStyle: {color: INK}}});
    yAxis.push({type: 'value', gridIndex: gi, min: -1, max: 1, interval: 1, position: 'right',
      axisLine: {show: false, onZero: false}, splitLine: {show: false}, axisLabel: {show: false},
      axisTick: {show: true, inside: true, length: 3, customValues: [0], lineStyle: {color: INK}}});
    series.push({type: 'line', xAxisIndex: xi, yAxisIndex: yi, data: p.traces[r], smooth: 0.45,
      symbol: 'none', clip: false, silent: true, z: 2, lineStyle: {color: '#2e2e2e', width: 1.1}});
    p.picks.forEach(([arr, col]) => {
      series.push({type: 'line', xAxisIndex: xi, yAxisIndex: yi, symbol: 'none', silent: true, z: 3,
        data: [[arr[r], BAR_LO], [arr[r], BAR_HI]], lineStyle: {color: col, width: 2.6}});
    });
  }
});

// right panel
const rg = grid.length;
grid.push({left: 756.7, top: 45, width: 319.3, height: 516, show: true, borderColor: INK, borderWidth: 1,
  backgroundColor: 'transparent', containLabel: false, outerBoundsMode: 'none'});
const rx = xAxis.length;
xAxis.push({type: 'value', gridIndex: rg, min: -0.2, max: 1.0, interval: 0.2,
  axisLine: {show: true, onZero: false, lineStyle: {color: INK}}, splitLine: {show: false},
  axisTick: {show: true, inside: false, length: 5, lineStyle: {color: INK}},
  minorTick: {show: true, splitNumber: 2, length: 4, lineStyle: {color: INK}},
  axisLabel: {fontSize: 15, color: '#222', margin: 11, fontFamily: FONT, showMinLabel: true, showMaxLabel: true,
    formatter: v => v.toFixed(1)},
  name: 'Normalized Group Rayleigh Wave Sensitivity', nameLocation: 'middle', nameGap: 40,
  nameTextStyle: {fontSize: 18, color: '#222', fontFamily: FONT}});
const ry = yAxis.length;
yAxis.push({type: 'value', gridIndex: rg, inverse: true, min: 0, max: 250, interval: 50,
  axisLine: {show: true, onZero: false, lineStyle: {color: INK}}, splitLine: {show: false},
  axisTick: {show: true, inside: false, length: 5, lineStyle: {color: INK}},
  minorTick: {show: true, splitNumber: 5, length: 3, lineStyle: {color: INK}},
  axisLabel: {fontSize: 15, color: '#222', margin: 10, fontFamily: FONT},
  name: 'Depth from Surface (m)', nameLocation: 'middle', nameGap: 50, nameRotate: 90,
  nameTextStyle: {fontSize: 18, color: '#222', fontFamily: FONT}});
// extra depth axis carrying the peak-depth guides (dashed ticks outside the frame) and bold labels
yAxis.push({type: 'value', gridIndex: rg, inverse: true, min: 0, max: 250, position: 'left',
  axisLine: {show: false, onZero: false}, splitLine: {show: false},
  axisTick: {show: true, inside: false, length: 24, customValues: peakDepths,
    lineStyle: {color: '#222', width: 1, type: [3, 3]}},
  axisLabel: {show: true, margin: 30, customValues: peakDepths, hideOverlap: false,
    fontSize: 15, fontWeight: 'bold', color: '#111', fontFamily: FONT,
    formatter: v => v === peakDepths[0] ? '{up|~' + v + ' m}' : (v === peakDepths[1] ? '{dn|~' + v + ' m}' : '~' + v + ' m'),
    rich: {
      up: {fontSize: 15, fontWeight: 'bold', color: '#111', fontFamily: FONT, padding: [0, 0, 5, 0]},
      dn: {fontSize: 15, fontWeight: 'bold', color: '#111', fontFamily: FONT, padding: [5, 0, 0, 0]}
    }}});

// zero line
series.push({type: 'line', xAxisIndex: rx, yAxisIndex: ry, data: [[0,0],[0,250]], symbol: 'none', silent: true, z: 1,
  lineStyle: {color: '#111', width: 1.3, type: [7, 4]}});
// peak depth guide lines inside the frame
peakDepths.forEach((d, i) => {
  series.push({type: 'line', xAxisIndex: rx, yAxisIndex: ry, symbol: 'none', silent: true, z: 1,
    data: [[-0.2, d], [peakValues[i], d]], lineStyle: {color: '#222', width: 1, type: [3, 3]}});
});
const curves = [[sens3Hz,'#4d7fc4'],[sens5Hz,'#a8c60f'],[sens75Hz,'#fdc20e'],[sens10Hz,'#ee1111']];
const curveOrder = [2, 1, 3, 0];
curveOrder.forEach(i => {
  const [data, col] = curves[i];
  series.push({type: 'line', xAxisIndex: rx, yAxisIndex: ry, data, smooth: 0.35, symbol: 'none', silent: true,
    z: 4 + i, lineStyle: {color: col, width: 3.5},
    markLine: {silent: true, symbol: ['none', 'arrow'], symbolSize: [9, 15], label: {show: false},
      lineStyle: {color: col, width: i === 3 ? 2 : 1.6, type: 'solid'},
      data: [[{coord: arrowTails[i]}, {coord: arrowTips[i]}]]}});
  series.push({type: 'scatter', xAxisIndex: rx, yAxisIndex: ry, data: [labelSpots[i]], symbolSize: 1,
    itemStyle: {color: 'rgba(0,0,0,0)'}, silent: true, z: 9,
    label: {show: true, position: 'inside', formatter: freqNames[i], color: col, fontSize: 17,
      fontWeight: 'bold', fontFamily: FONT}});
});

const txt = (text, x, y, size, rot) => ({type: 'text', x, y, rotation: rot || 0, silent: true, z: 20,
  style: {text, fill: '#222', font: size + 'px ' + FONT, align: 'center', verticalAlign: 'middle'}});

const option = {
  animation: false,
  backgroundColor: '#fff',
  textStyle: {fontFamily: FONT},
  grid, xAxis, yAxis, series,
  graphic: [
    txt('(a)', 31, 18, 20), txt('(b)', 731, 19, 20),
    txt('0.5 to 5 Hz', 188, 33, 16), txt('5 to 10 Hz', 521, 33, 16),
    txt('West', 16, 96, 16, Math.PI/2), txt('East', 16, 512, 16, Math.PI/2),
    {type: 'rect', silent: true, z: 30, shape: {x: 31.3, y: 200, width: 638.7, height: 181.5},
      style: {fill: 'none', stroke: '#0fa7c6', lineWidth: 3.5}}
  ]
};
const chart = echarts.init(document.getElementById('c'), null, {renderer: 'canvas'});
chart.setOption(option);
</script></body></html>
